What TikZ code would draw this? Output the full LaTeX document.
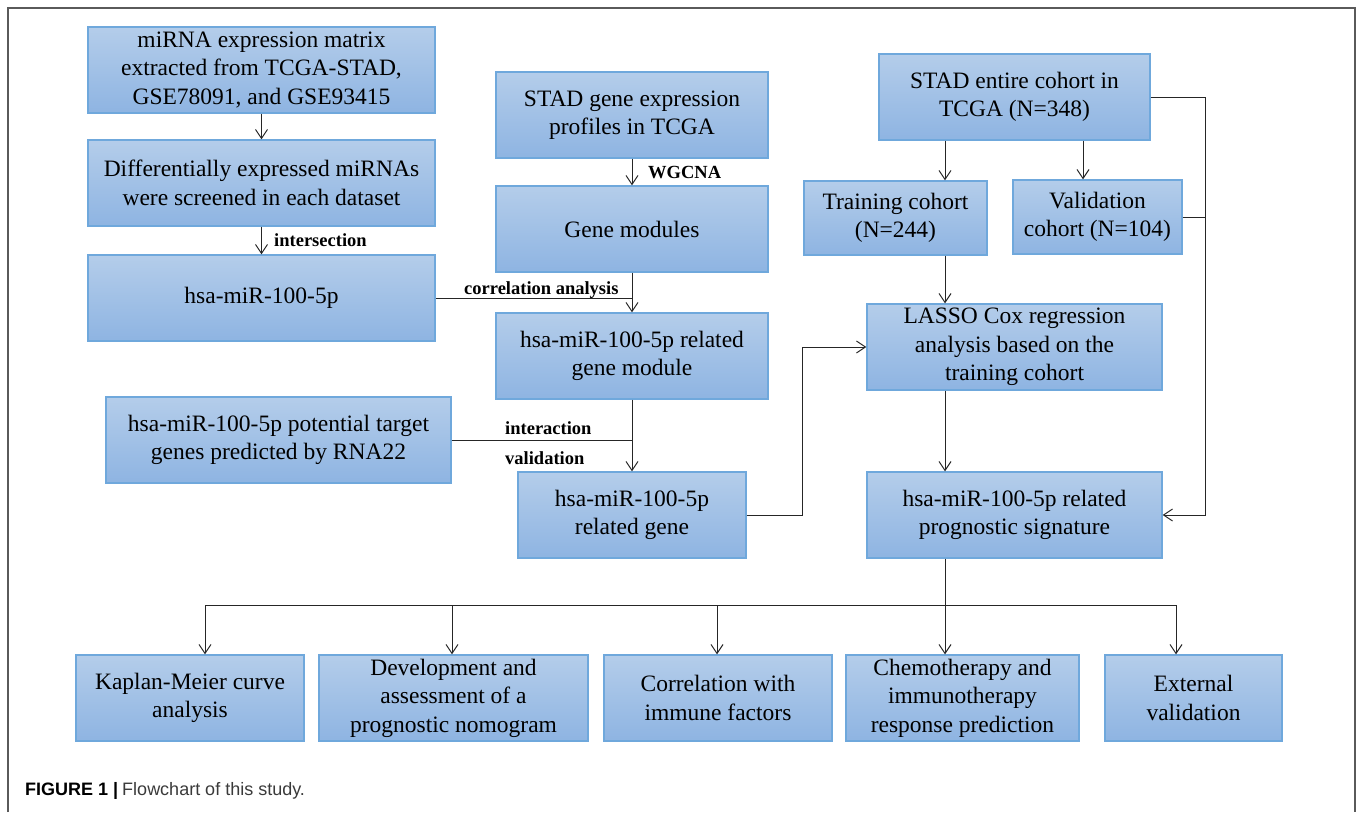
\documentclass[tikz,border=0pt]{standalone}
\usepackage{fontspec}
\setmainfont{Liberation Serif}
\newfontfamily\capfont{Liberation Sans}
\usetikzlibrary{arrows.meta}
\definecolor{boxtop}{HTML}{B4CDEA}
\definecolor{boxbot}{HTML}{8EB4E2}
\definecolor{boxline}{HTML}{6FA8DC}
\definecolor{framegray}{HTML}{5A5A5A}
\definecolor{capgray}{HTML}{3A3A3A}
\tikzset{
  box/.style={draw=boxline, line width=1.3pt, top color=boxtop, bottom color=boxbot,
    inner sep=0pt, align=center, font=\fontsize{23.5}{28.5}\selectfont, minimum height=86pt},
  conn/.style={line width=1pt, draw=black!85, -{Straight Barb[length=9pt,width=12pt,line width=1pt]}},
  plain/.style={line width=1pt, draw=black!85},
  lab/.style={font=\bfseries\fontsize{18.5}{20}\selectfont, inner sep=0pt, anchor=base west}
}
\begin{document}
\begin{tikzpicture}[x=1pt,y=-1pt]
\useasboundingbox (0,0) rectangle (1357,812);
\draw[framegray, line width=1.5pt] (8,812) -- (8,8) -- (1355,8) -- (1355,812);

% left column
\node[box, minimum width=347pt] (m1) at (261.5,70) {miRNA expression matrix\\extracted from TCGA-STAD,\\GSE78091, and GSE93415};
\node[box, minimum width=347pt] (m2) at (261.5,183) {Differentially expressed miRNAs\\were screened in each dataset};
\node[box, minimum width=347pt] (m3) at (261.5,298) {hsa-miR-100-5p};
\node[box, minimum width=345pt] (t1) at (278.5,440) {hsa-miR-100-5p potential target\\genes predicted by RNA22};

% middle column
\node[box, minimum width=272pt] (g1) at (632,115) {STAD gene expression\\profiles in TCGA};
\node[box, minimum width=272pt] (g2) at (632,229) {Gene modules};
\node[box, minimum width=272pt] (g3) at (632,356) {hsa-miR-100-5p related\\gene module};
\node[box, minimum width=228pt] (g4) at (632,515) {hsa-miR-100-5p\\related gene};

% right column
\node[box, minimum width=271pt] (s1) at (1014.5,97) {STAD entire cohort in\\TCGA (N=348)};
\node[box, minimum width=183pt, minimum height=74pt] (s2) at (895.5,218) {Training cohort\\(N=244)};
\node[box, minimum width=169pt, minimum height=74pt] (s3) at (1097.5,217) {Validation\\cohort (N=104)};
\node[box, minimum width=295pt] (s4) at (1014.5,347) {LASSO Cox regression\\analysis based on the\\training cohort};
\node[box, minimum width=295pt] (s5) at (1014.5,515) {hsa-miR-100-5p related\\prognostic signature};

% bottom row
\node[box, minimum width=228pt] (b1) at (190,698) {Kaplan-Meier curve\\analysis};
\node[box, minimum width=269pt] (b2) at (453.5,698) {Development and\\assessment of a\\prognostic nomogram};
\node[box, minimum width=228pt] (b3) at (718,698) {Correlation with\\immune factors};
\node[box, minimum width=233pt] (b4) at (962.5,698) {Chemotherapy and\\immunotherapy\\response prediction};
\node[box, minimum width=177pt] (b5) at (1193.5,698) {External\\validation};

% helper coordinates
\coordinate (j1) at (802,0);
\coordinate (cx) at (945,0);
\coordinate (cv) at (1083,0);
\coordinate (cr) at (1205,0);
\coordinate (k1) at (205,605);
\coordinate (k2) at (452,605);
\coordinate (k3) at (717,605);
\coordinate (k4) at (945,605);
\coordinate (k5) at (1176,605);

% connectors
\draw[conn] (m1.south) -- (m2.north);
\draw[conn] (m2.south) -- (m3.north);
\draw[conn] (g1.south) -- (g2.north);
\draw[conn] (g2.south) -- (g3.north);
\draw[plain] (m3.east) -- (m3.east -| g3.north);
\draw[conn] (g3.south) -- (g4.north);
\draw[plain] (t1.east) -- (t1.east -| g4.north);
\draw[conn] (g4.east) -- (g4.east -| j1) -- (s4.west -| j1) -- (s4.west);
\draw[conn] (s1.south -| cx) -- (s2.north -| cx);
\draw[conn] (s1.south -| cv) -- (s3.north -| cv);
\draw[conn] (s2.south -| cx) -- (s4.north -| cx);
\draw[conn] (s4.south -| cx) -- (s5.north -| cx);
\draw[conn] (s1.east) -- (s1.east -| cr) -- (s5.east -| cr) -- (s5.east);
\draw[plain] (s3.east) -- (s3.east -| cr);
\draw[plain] (s5.south -| cx) -- (k4);
\draw[plain] (k1) -- (k5);
\draw[conn] (k1) -- (k1 |- b1.north);
\draw[conn] (k2) -- (k2 |- b2.north);
\draw[conn] (k3) -- (k3 |- b3.north);
\draw[conn] (k4) -- (k4 |- b4.north);
\draw[conn] (k5) -- (k5 |- b5.north);

% labels
\node[lab] (lint) at (274,246) {intersection};
\node[lab] (lwg) at (648,178) {WGCNA};
\node[lab] (lcor) at (464,294) {correlation analysis};
\node[lab] (lia) at (505,434) {interaction};
\node[lab] (lva) at (505,464) {validation};

% caption
\node[anchor=base west, inner sep=0pt, font=\capfont\fontsize{18}{20}\selectfont] (cap) at (25,795)
  {\textbf{FIGURE 1}\hspace{5pt}\textbf{|}\hspace{4pt}\textcolor{capgray}{Flowchart of this study.}};
\end{tikzpicture}
\end{document}
